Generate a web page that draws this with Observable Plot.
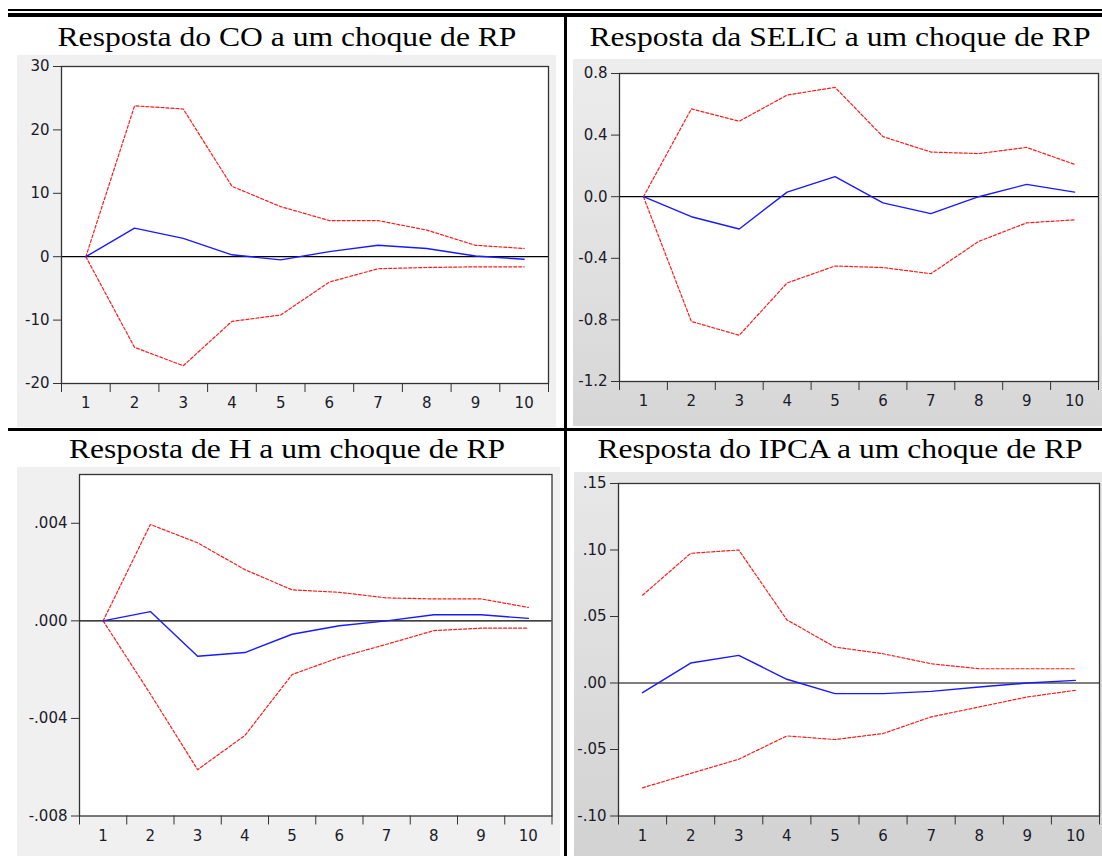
<!DOCTYPE html>
<html>
<head>
<meta charset="utf-8">
<script src="https://cdn.jsdelivr.net/npm/d3@7"></script>
<script src="https://cdn.jsdelivr.net/npm/@observablehq/plot@0.6"></script>
<style>
  html, body { margin: 0; padding: 0; background: #fff; }
  #root { position: relative; width: 1102px; height: 856px; overflow: hidden; background: #fff; }
  .title { position: absolute; font-family: "Liberation Serif", "Times New Roman", serif; font-size: 27px; color: #000; white-space: nowrap; transform-origin: 50% 50%; transform: translateX(-50%) scaleX(1.17); line-height: 1; }
  .panel { position: absolute; }
  .bar { position: absolute; background: #000; }
</style>
</head>
<body>
<div id="root"></div>
<script>
// ---------- data ----------
const periods = [1, 2, 3, 4, 5, 6, 7, 8, 9, 10];

const titles = [
  "Resposta do CO a um choque de RP",
  "Resposta da SELIC a um choque de RP",
  "Resposta de H a um choque de RP",
  "Resposta do IPCA a um choque de RP"
];

const coResp  = [0, 4.5, 2.9, 0.3, -0.5, 0.8, 1.8, 1.3, 0.1, -0.4];
const coUpper = [0, 23.8, 23.3, 11.1, 7.9, 5.7, 5.7, 4.2, 1.8, 1.3];
const coLower = [0, -14.3, -17.2, -10.2, -9.2, -4.0, -1.9, -1.7, -1.6, -1.6];
const coTicks = [-20, -10, 0, 10, 20, 30];
const coTickLabels = ["-20", "-10", "0", "10", "20", "30"];

const selicResp  = [0, -0.13, -0.21, 0.03, 0.13, -0.04, -0.11, 0.0, 0.08, 0.03];
const selicUpper = [0, 0.57, 0.49, 0.66, 0.71, 0.39, 0.29, 0.28, 0.32, 0.21];
const selicLower = [0, -0.81, -0.90, -0.56, -0.45, -0.46, -0.50, -0.29, -0.17, -0.15];
const selicTicks = [-1.2, -0.8, -0.4, 0.0, 0.4, 0.8];
const selicTickLabels = ["-1.2", "-0.8", "-0.4", "0.0", "0.4", "0.8"];

const hResp  = [0, 0.00038, -0.00145, -0.0013, -0.00055, -0.0002, 0.0, 0.00025, 0.00025, 0.0001];
const hUpper = [0, 0.00395, 0.0032, 0.0021, 0.00127, 0.00117, 0.00094, 0.0009, 0.0009, 0.00055];
const hLower = [0, -0.0030, -0.0061, -0.0047, -0.0022, -0.0015, -0.00096, -0.0004, -0.0003, -0.0003];
const hTicks = [-0.008, -0.004, 0.000, 0.004];
const hTickLabels = ["-.008", "-.004", ".000", ".004"];

const ipcaResp  = [-0.0073, 0.015, 0.0208, 0.0028, -0.008, -0.008, -0.0063, -0.003, 0.0, 0.002];
const ipcaUpper = [0.066, 0.0975, 0.100, 0.0475, 0.027, 0.022, 0.0145, 0.0107, 0.0107, 0.0107];
const ipcaLower = [-0.0788, -0.068, -0.0573, -0.0398, -0.0425, -0.038, -0.0255, -0.018, -0.0105, -0.0055];
const ipcaTicks = [-0.10, -0.05, 0.00, 0.05, 0.10, 0.15];
const ipcaTickLabels = ["-.10", "-.05", ".00", ".05", ".10", ".15"];

// ---------- layout ----------
const root = document.getElementById("root");

function addBar(l, t, w, h) {
  const d = document.createElement("div");
  d.className = "bar";
  Object.assign(d.style, {left: l + "px", top: t + "px", width: w + "px", height: h + "px"});
  root.appendChild(d);
}
function addTitle(text, cx, top) {
  const d = document.createElement("div");
  d.className = "title";
  d.textContent = text;
  Object.assign(d.style, {left: cx + "px", top: top + "px"});
  root.appendChild(d);
}

const edges = [periods[0] - 0.5, ...periods.map(p => p + 0.5)];
const tickFont = {fontFamily: "'DejaVu Sans', sans-serif", fontSize: 15, fill: "#1a1a2a"};

function makePanel(cfg) {
  const labelMap = new Map(cfg.ticks.map((t, i) => [t, cfg.tickLabels[i]]));
  const rows = periods.map((p, i) => ({p, resp: cfg.resp[i], up: cfg.upper[i], lo: cfg.lower[i]}));
  const chart = Plot.plot({
    width: cfg.w,
    height: cfg.h,
    marginLeft: cfg.ml,
    marginTop: cfg.mt,
    marginRight: cfg.mr,
    marginBottom: cfg.mb,
    style: {
      background: cfg.bg,
      fontFamily: "'DejaVu Sans', sans-serif",
      fontSize: "15px",
      color: "#1a1a2a",
      overflow: "visible"
    },
    x: {domain: [edges[0], edges[edges.length - 1]]},
    y: {domain: cfg.domain},
    marks: [
      Plot.frame({fill: "white", stroke: null}),
      Plot.ruleY([0], {stroke: "#000", strokeWidth: 1.2}),
      Plot.line(rows, {x: "p", y: "up", stroke: "#ff1a1a", strokeWidth: 1.2, strokeDasharray: "3,2"}),
      Plot.line(rows, {x: "p", y: "lo", stroke: "#ff1a1a", strokeWidth: 1.2, strokeDasharray: "3,2"}),
      Plot.line(rows, {x: "p", y: "resp", stroke: "#1a1aff", strokeWidth: 1.4}),
      Plot.frame({stroke: "#333", strokeWidth: 1.3}),
      Plot.axisY(cfg.ticks, {tickSize: 8, tickPadding: 4, tickFormat: d => labelMap.get(d), stroke: "#333", label: null, ...tickFont}),
      Plot.axisX(edges, {tickSize: 9, tickFormat: () => "", stroke: "#333", label: null}),
      Plot.axisX(periods, {tickSize: 0, tickPadding: 14, tickFormat: d => String(d), label: null, ...tickFont})
    ]
  });
  const wrap = document.createElement("div");
  wrap.className = "panel";
  Object.assign(wrap.style, {left: cfg.x + "px", top: cfg.y + "px", width: cfg.w + "px", height: cfg.h + "px"});
  wrap.appendChild(chart);
  root.appendChild(wrap);
}

// panels
makePanel({x: 17, y: 55, w: 539, h: 372, ml: 44, mt: 11, mr: 8, mb: 44,
  bg: "#f0f0f0", domain: [-20, 30], ticks: coTicks, tickLabels: coTickLabels,
  resp: coResp, upper: coUpper, lower: coLower});
makePanel({x: 573, y: 59, w: 529, h: 367, ml: 46, mt: 14, mr: 4, mb: 45,
  bg: "linear-gradient(#ededed, #d6d6d6)", domain: [-1.2, 0.8], ticks: selicTicks, tickLabels: selicTickLabels,
  resp: selicResp, upper: selicUpper, lower: selicLower});
makePanel({x: 17, y: 467, w: 543, h: 389, ml: 62, mt: 7, mr: 8.5, mb: 40.5,
  bg: "#f0f0f0", domain: [-0.008, 0.006], ticks: hTicks, tickLabels: hTickLabels,
  resp: hResp, upper: hUpper, lower: hLower});
makePanel({x: 574, y: 472, w: 528, h: 384, ml: 44, mt: 11, mr: 3, mb: 40.5,
  bg: "linear-gradient(#e8e8e8, #d2d2d2)", domain: [-0.10, 0.15], ticks: ipcaTicks, tickLabels: ipcaTickLabels,
  resp: ipcaResp, upper: ipcaUpper, lower: ipcaLower});

// rules of the table
addBar(8, 9, 1094, 1.5);
addBar(8, 13, 1094, 4);
addBar(8, 428, 1094, 3);
addBar(564, 17, 3, 839);

// titles
addTitle(titles[0], 287, 24);
addTitle(titles[1], 840, 24);
addTitle(titles[2], 287, 436);
addTitle(titles[3], 840, 436);
</script>
</body>
</html>
